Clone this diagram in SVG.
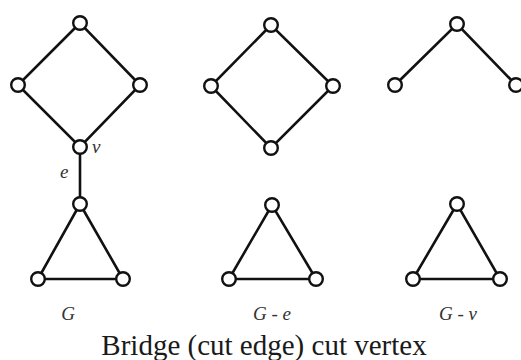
<svg xmlns="http://www.w3.org/2000/svg" width="521" height="360" viewBox="0 0 521 360">
<style>
.e{stroke:#111;stroke-width:2.6;stroke-linecap:round;fill:none}
.n{fill:#fff;stroke:#111;stroke-width:2.4}
</style>
<rect width="521" height="360" fill="#fff"/>
<g id="connectors">
<path class="e" d="M80 23L18 85L80 147L140 85Z"/>
<path class="e" d="M80 147L80 204"/>
<path class="e" d="M80 204L38 279L123 279Z"/>
<path class="e" d="M271 25L211 86L271 148L333 86Z"/>
<path class="e" d="M272 205L229 279L316 279Z"/>
<path class="e" d="M395 85L457 24L516 85"/>
<path class="e" d="M457 204L413 279L500 279Z"/>
</g>
<g id="g-top"><circle class="n" cx="80" cy="23" r="6.8"/></g>
<g id="g-left"><circle class="n" cx="18" cy="85" r="6.8"/></g>
<g id="g-right"><circle class="n" cx="140" cy="85" r="6.8"/></g>
<g id="g-v"><circle class="n" cx="80" cy="147" r="6.8"/></g>
<g id="g-t1"><circle class="n" cx="80" cy="204" r="6.8"/></g>
<g id="g-t2"><circle class="n" cx="38" cy="279" r="6.8"/></g>
<g id="g-t3"><circle class="n" cx="123" cy="279" r="6.8"/></g>
<g id="ge-top"><circle class="n" cx="271" cy="25" r="6.8"/></g>
<g id="ge-left"><circle class="n" cx="211" cy="86" r="6.8"/></g>
<g id="ge-right"><circle class="n" cx="333" cy="86" r="6.8"/></g>
<g id="ge-bottom"><circle class="n" cx="271" cy="148" r="6.8"/></g>
<g id="ge-t1"><circle class="n" cx="272" cy="205" r="6.8"/></g>
<g id="ge-t2"><circle class="n" cx="229" cy="279" r="6.8"/></g>
<g id="ge-t3"><circle class="n" cx="316" cy="279" r="6.8"/></g>
<g id="gv-top"><circle class="n" cx="457" cy="24" r="6.8"/></g>
<g id="gv-left"><circle class="n" cx="395" cy="85" r="6.8"/></g>
<g id="gv-right"><circle class="n" cx="516" cy="85" r="6.8"/></g>
<g id="gv-t1"><circle class="n" cx="457" cy="204" r="6.8"/></g>
<g id="gv-t2"><circle class="n" cx="413" cy="279" r="6.8"/></g>
<g id="gv-t3"><circle class="n" cx="500" cy="279" r="6.8"/></g>
<g id="labels" font-family="Liberation Serif, DejaVu Serif, serif" font-style="italic" font-size="19" fill="#333">
<text x="92" y="153">v</text>
<text x="60" y="178">e</text>
<text x="68" y="320" text-anchor="middle">G</text>
<text x="272" y="320" text-anchor="middle" xml:space="preserve">G - e</text>
<text x="458" y="320" text-anchor="middle" xml:space="preserve">G - v</text>
<text x="264" y="355" text-anchor="middle" font-style="normal" font-size="29" fill="#1a1a1a">Bridge (cut edge) cut vertex</text>
</g>
</svg>
